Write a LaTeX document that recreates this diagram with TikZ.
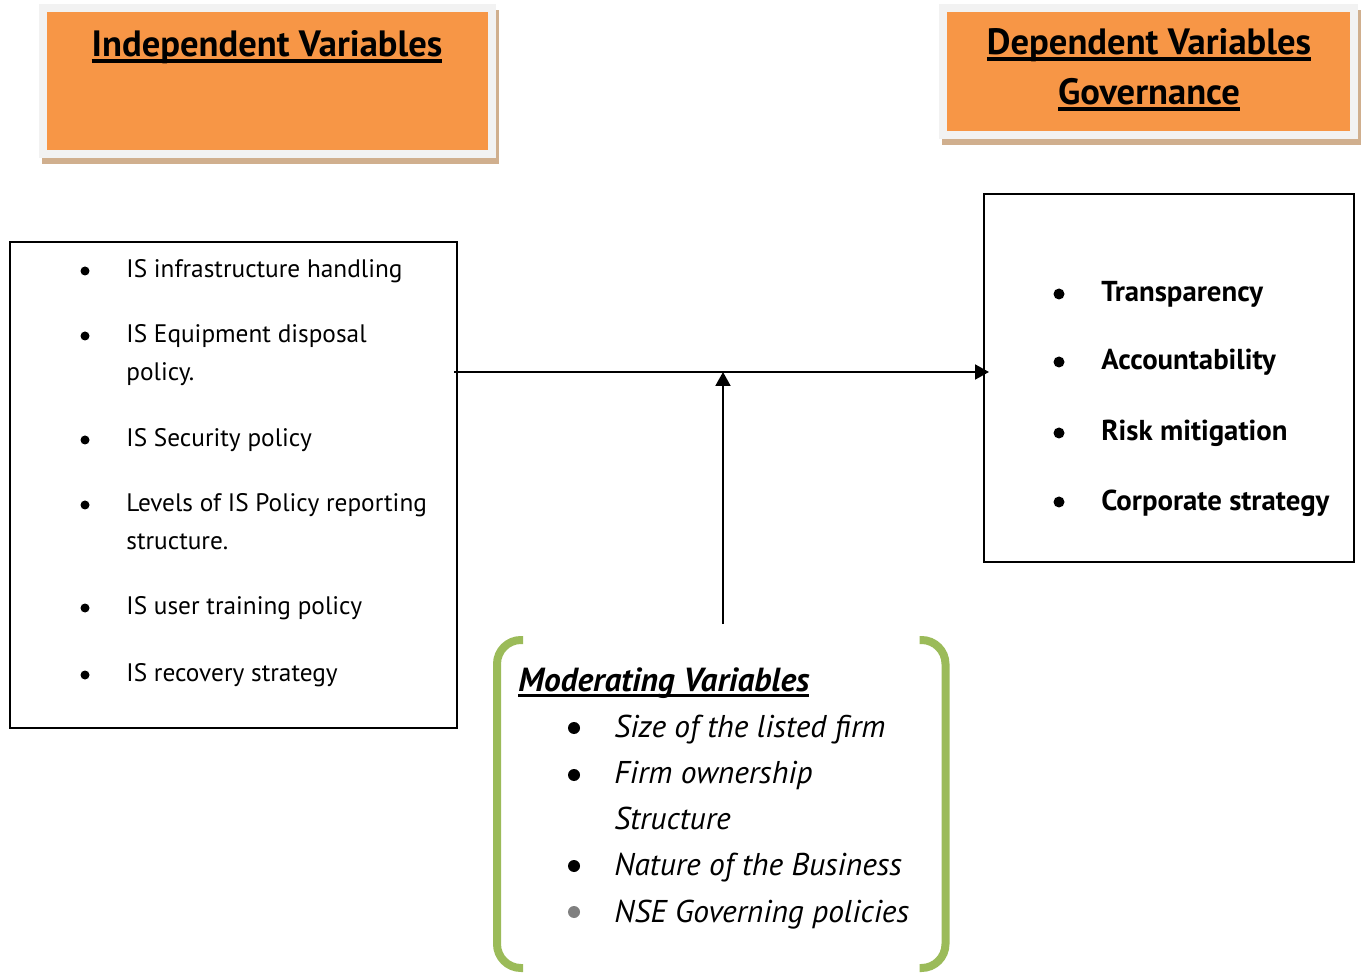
\documentclass[tikz,border=0pt]{standalone}
\usepackage{fontspec}
\setmainfont{PT Sans}
\usepackage{tikz}
\usetikzlibrary{positioning,arrows.meta,backgrounds}
\definecolor{hdrorange}{HTML}{F79646}
\definecolor{hdrframe}{HTML}{F2F2F2}
\definecolor{hdrshadow}{HTML}{D0AF8E}
\definecolor{modgreen}{HTML}{9BBB59}
\newlength{\ulwd}
\newcommand{\ttlul}[1]{\settowidth{\ulwd}{#1}\rlap{#1}\rule[-2.8pt]{\ulwd}{2pt}}
\newcommand{\modul}[1]{\settowidth{\ulwd}{#1}\rlap{#1}\rule[-3pt]{\ulwd}{1.6pt}}
\tikzstyle{hdr}=[%
      rectangle, draw=hdrframe, line width=4pt, fill=hdrorange, inner sep=0pt
]
\tikzstyle{box}=[%
      rectangle, draw=black, line width=1pt, inner sep=0pt
]
\tikzstyle{ttl}=[%
      anchor=base, inner sep=0pt, font=\fontsize{18.3}{22}\selectfont\bfseries
]
\tikzstyle{lefttxt}=[%
      anchor=base west, inner sep=0pt, font=\fontsize{12.65}{15}\selectfont
]
\tikzstyle{righttxt}=[%
      anchor=base west, inner sep=0pt, font=\fontsize{14.4}{17}\selectfont\bfseries
]
\tikzstyle{modttl}=[%
      anchor=base west, inner sep=0pt, font=\fontsize{16.7}{20}\selectfont\bfseries\itshape
]
\tikzstyle{modtxt}=[%
      anchor=base west, inner sep=0pt, font=\fontsize{15.75}{19}\selectfont\itshape
]
\tikzstyle{dot}=[%
      circle, fill=black, inner sep=0pt, minimum size=4.5pt
]
\tikzstyle{bracket}=[%
      draw=modgreen, line width=4pt, rounded corners=12pt
]
\tikzstyle{link}=[%
      ->, line width=1pt
]

\begin{document}
\begin{tikzpicture}[x=0.5pt, y=-0.5pt,
    >={Triangle[length=7pt,width=7.5pt]}
  ]
    \useasboundingbox (0,0) rectangle (1362,973);

    % headers
    \node[hdr, minimum width=224.5pt, minimum height=73pt]   (indep) at (267.5,81)   {};
    \node[hdr, minimum width=205.5pt, minimum height=63.5pt] (dep)   at (1148.5,71.5) {};
    \begin{scope}[on background layer]
      \foreach \n in {indep,dep}
        \fill[hdrshadow] ([shift={(3,6)}]\n.north west) rectangle ([shift={(3,6)}]\n.south east);
    \end{scope}
    \node[ttl] (indeptitle) at (267,57)  {\ttlul{Independent Variables}};
    \node[ttl] (deptitle)   at (1149,55) {\ttlul{Dependent Variables}};
    \node[ttl] (govtitle)   at (1149,105) {\ttlul{Governance}};

    % independent variables
    \node[box, minimum width=223.5pt, minimum height=243pt] (indepbox) at (233.5,485) {};
    \foreach \y/\t [count=\i] in {278/IS infrastructure handling, 343/IS Equipment disposal,
        381/policy., 447/IS Security policy, 512/Levels of IS Policy reporting,
        550/structure., 615/IS user training policy, 682/IS recovery strategy}
      \node[lefttxt] (indepitem\i) at (126,\y) {\t};
    \foreach \y [count=\i] in {271,336,440,505,608,675}
      \node[dot] (indepdot\i) at (85,\y) {};

    % dependent variables
    \node[box, minimum width=185pt, minimum height=184pt] (depbox) at (1169,378) {};
    \foreach \y/\t [count=\i] in {302/Transparency, 370/Accountability,
        441/Risk mitigation, 510/Corporate strategy}
      \node[righttxt] (depitem\i) at (1101,\y) {\t};
    \foreach \y [count=\i] in {294,362,433,502}
      \node[dot, minimum size=5.5pt] (depdot\i) at (1059,\y) {};

    % moderating variables
    \node[inner sep=0pt, outer sep=0pt, minimum width=224.25pt, minimum height=164pt] (modbox) at (721.25,804) {};
    \draw[bracket] ([xshift=13pt]modbox.north west) -- (modbox.north west)
          -- (modbox.south west) -- ([xshift=13pt]modbox.south west);
    \draw[bracket] ([xshift=-13pt]modbox.north east) -- (modbox.north east)
          -- (modbox.south east) -- ([xshift=-13pt]modbox.south east);
    \node[modttl] (modtitle) at (518,691) {\modul{Moderating Variables}};
    \foreach \y/\t [count=\i] in {737/Size of the listed firm, 783/Firm ownership,
        829/Structure, 875/Nature of the Business, 922/NSE Governing policies}
      \node[modtxt] (moditem\i) at (614,\y) {\t};
    \foreach \y/\c [count=\i] in {728/black, 775/black, 866/black, 912/gray}
      \node[dot, minimum size=6pt, fill=\c] (moddot\i) at (574,\y) {};

    % links
    \coordinate (junction) at (723,372);
    \coordinate (modtop) at ([yshift=8pt]modbox.north -| junction);
    \draw[link, shorten <=-2pt, shorten >=-3pt] (indepbox.east |- junction) -- (depbox.west |- junction);
    \draw[link] (modtop) -- (junction);

  \end{tikzpicture}
\end{document}
